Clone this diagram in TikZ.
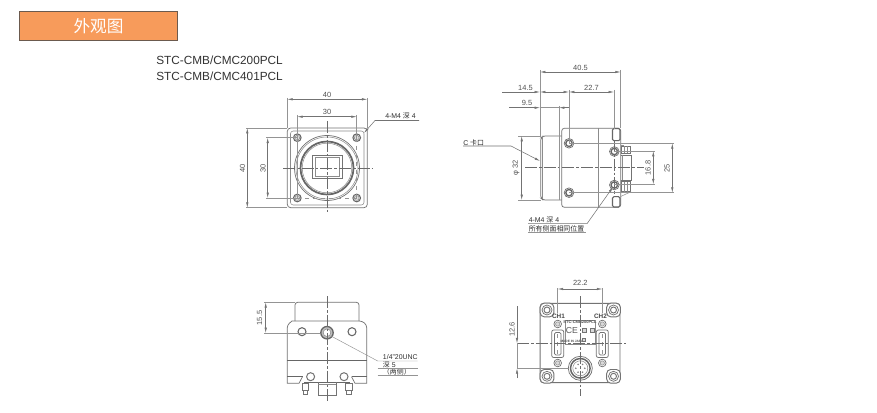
\documentclass[tikz,border=0pt]{standalone}
\usepackage{fontspec}
\setmainfont{Liberation Sans}
\newfontfamily\cjk{Noto Sans CJK SC}
\usetikzlibrary{arrows.meta}
\definecolor{hdr}{HTML}{F79B5B}
\definecolor{hdrline}{HTML}{6B5A4E}
\definecolor{ink}{HTML}{333333}
\tikzset{
 obj/.style={draw=black!55,line width=.55pt},
 thin obj/.style={draw=black!45,line width=.4pt},
 heavy/.style={draw=black!60,line width=.8pt},
 ctr/.style={draw=black!58,line width=.4pt,dash pattern=on 9pt off 1.5pt on 2pt off 1.5pt},
 ext/.style={draw=black!42,line width=.35pt},
 dim/.style={draw=black!55,line width=.4pt,{Latex[length=4pt,width=1.8pt]}-{Latex[length=4pt,width=1.8pt]}},
 tip/.style={draw=black!55,line width=.4pt,-{Latex[length=4pt,width=1.8pt]}},
 lbl/.style={font=\fontsize{5.6}{6}\selectfont,text=black!68,inner sep=0pt},
 call/.style={font=\fontsize{5.2}{6}\selectfont,text=black!82,inner sep=0pt,anchor=west},
 model/.style={font=\fontsize{8.85}{10}\selectfont,text=ink,inner sep=0pt,anchor=west},
}
\newcommand{\hole}[2]{\draw[heavy,fill=white] (#1,#2) circle (3.8);\draw[thin obj,fill=black!12] (#1,#2) circle (2.4);}
\newcommand{\bigscrew}[2]{\draw[obj,fill=white] (#1,#2) circle (4.8);\draw[heavy,line width=1pt] (#1,#2) circle (3.2);}
\begin{document}
\begin{tikzpicture}[x=.75pt,y=-.75pt]
\useasboundingbox (0,0) rectangle (877,413);
\fill[white] (0,0) rectangle (877,413);
% header
\node[draw=hdrline,line width=.7pt,fill=hdr,minimum width=119pt,minimum height=22pt,inner sep=0pt,text=white,font=\cjk\fontsize{12.5}{14}\selectfont] (hd) at (98.5,25.8) {外观图};
\node[model] (m1) at (156,60.5) {STC-CMB/CMC200PCL};
\node[model] (m2) at (156,76.5) {STC-CMB/CMC401PCL};

% ===== front view =====
\draw[obj,rounded corners=2.5pt] (287.3,128) rectangle (367.3,207.7);
\draw[thin obj,rounded corners=2pt] (290.5,131) rectangle (364,205);
\draw[obj] (327,168) circle (32.5);
\draw[thin obj] (327,168) circle (31);
\draw[heavy,line width=1.3pt] (327,168) circle (26.5);
\draw[thin obj] (327,168) circle (24.8);
\draw[obj,line width=.7pt,fill=white] (312.3,155) rectangle (342.3,178.5);
\draw[thin obj] (315,157.5) rectangle (339.5,176);
\hole{297.3}{137.7}\hole{356.7}{137.7}\hole{297.3}{198}\hole{356.7}{198}
\draw[ctr] (283,168) -- (373,168);
\draw[ctr] (327,121) -- (327,214);
\draw[ext,dashed] (297.3,198) -- (356.7,198);
\draw[ext,dashed] (356.7,137.7) -- (356.7,198);
\draw[ext] (287.3,98) -- (287.3,128);
\draw[ext] (367.3,98) -- (367.3,128);
\draw[ext] (297.3,115) -- (297.3,198);
\draw[ext] (356.7,115) -- (356.7,137.7);
\draw[ext] (246,128) -- (287.3,128);
\draw[ext] (246,207.7) -- (287.3,207.7);
\draw[ext] (266,137.7) -- (297.3,137.7);
\draw[ext] (266,198) -- (297.3,198);
\coordinate (fa) at (287.3,99.3); \coordinate (fb) at (367.3,99.3);
\draw[dim] (fa) -- (fb);
\coordinate (fc) at (297.3,116.7); \coordinate (fd) at (356.7,116.7);
\draw[dim] (fc) -- (fd);
\coordinate (fe) at (247.3,128); \coordinate (ff) at (247.3,207.7);
\draw[dim] (fe) -- (ff);
\coordinate (fg) at (267.7,137.7); \coordinate (fh) at (267.7,198);
\draw[dim] (fg) -- (fh);
\node[lbl] (l40a) at (327,94.5) {40};
\node[lbl] (l30a) at (327,112) {30};
\node[lbl,rotate=90] (l40b) at (242.5,168) {40};
\node[lbl,rotate=90] (l30b) at (263,168) {30};
\node[call,anchor=west] (m4a) at (385,115.5) {4-M4 {\cjk 深} 4};
\coordinate (m4e) at (419,120.5); \coordinate (m4f) at (375,120.5); \coordinate (m4g) at (364,133);
\draw[tip] (m4e) -- (m4f) -- (m4g);

% ===== side view =====
\draw[obj,rounded corners=2pt] (561.7,128.3) -- (620.7,128.3) -- (620.7,207.3) -- (561.7,207.3) -- cycle;
\draw[obj,rounded corners=1.5pt] (561.7,136) -- (543,136) -- (540.7,138) -- (540.7,198) -- (543,200) -- (561.7,200);
\draw[thin obj] (542.5,136.5) -- (542.5,199.5);
\draw[thin obj] (598.3,128.3) -- (598.3,207.3);
\draw[heavy,fill=white,rounded corners=1pt] (612.5,128.5) rectangle (620,140.7);
\draw[heavy,fill=white,rounded corners=1pt] (612.5,196.7) rectangle (620,207);
% connector side
\draw[thin obj] (620.7,145) -- (624,145);
\draw[obj] (620.7,155) -- (631,155) -- (631,180.5) -- (620.7,180.5);
\draw[thin obj] (622.5,155) -- (622.5,180.5);
\draw[obj] (621,146) rectangle (630,153.5);
\draw[thin obj] (624,146) -- (624,153.5) (627.5,146) -- (627.5,153.5);
\draw[obj] (621,181.7) rectangle (630,191.7);
\draw[thin obj] (624,181.7) -- (624,191.7) (627.5,181.7) -- (627.5,191.7);
\draw[thin obj] (620.7,196.5) -- (631,191.7);
\bigscrew{569}{143.3}\bigscrew{569}{192.7}
\bigscrew{614.3}{151.5}\bigscrew{614.3}{185}
\draw[ctr] (525,167.7) -- (644,167.7);
\draw[ctr] (614.3,140) -- (614.3,197);
\draw[ext] (540,70) -- (540,136);
\draw[ext] (620.7,70) -- (620.7,128.3);
\draw[ext] (569,90) -- (569,143);
\draw[ext] (614,90) -- (614,129);
\draw[ext] (559,106) -- (559,200);
\draw[ext] (518,136) -- (541,136);
\draw[ext] (518,200) -- (541,200);
\draw[ext] (569,143.3) -- (674,143.3);
\draw[ext] (569,192.7) -- (674,192.7);
\draw[ext] (613.7,151) -- (655,151);
\draw[ext] (613.7,184.3) -- (655,184.3);
\coordinate (sa) at (540,72); \coordinate (sb) at (620.7,72);
\draw[dim] (sa) -- (sb);
\coordinate (sc) at (502,92); \coordinate (sd) at (540,92); \coordinate (se) at (569,92); \coordinate (sf) at (614,92);
\draw[tip] (sc) -- (sd);
\draw[dim] (sd) -- (se);
\draw[dim] (se) -- (sf);
\coordinate (sg) at (509,107.7); \coordinate (sh) at (540,107.7); \coordinate (si) at (559,107.7); \coordinate (sj) at (569,107.7);
\draw[tip] (sg) -- (sh);
\draw[ext] (sh) -- (si);
\draw[tip] (sj) -- (si);
\coordinate (sk) at (521.7,136); \coordinate (sl) at (521.7,200);
\draw[dim] (sk) -- (sl);
\coordinate (sm) at (653.3,151); \coordinate (sn) at (653.3,184.3);
\draw[dim] (sm) -- (sn);
\coordinate (so) at (672.3,143.3); \coordinate (sp) at (672.3,192.7);
\draw[dim] (so) -- (sp);
\node[lbl] (l405) at (580.5,67.5) {40.5};
\node[lbl] (l145) at (525.5,87.5) {14.5};
\node[lbl] (l227) at (591.5,87.5) {22.7};
\node[lbl] (l95) at (527,103) {9.5};
\node[lbl,rotate=90] (l32) at (516,168) {φ 32};
\node[lbl,rotate=90] (l168) at (648,168) {16.8};
\node[lbl,rotate=90] (l25) at (667,168) {25};
\node[call] (cm) at (463,142.7) {C {\cjk 卡口}};
\coordinate (cma) at (463,146); \coordinate (cmb) at (511,146); \coordinate (cmc) at (540,161);
\draw[tip] (cma) -- (cmb) -- (cmc);
\node[call] (m4b) at (528.5,220) {4-M4 {\cjk 深} 4};
\node[call] (m4c) at (528.5,229) {\cjk 所有侧面相同位置};
\coordinate (m4h) at (528,223.7); \coordinate (m4i) at (587,223.7); \coordinate (m4j) at (613,187);
\draw[ext] (528,232.5) -- (586,232.5);
\draw[tip] (m4h) -- (m4i) -- (m4j);

% ===== bottom view =====
\draw[obj,rounded corners=2pt] (295,321) -- (295,302.3) -- (359,302.3) -- (359,321);
\draw[obj,rounded corners=2pt] (292,321) -- (362,321) -- (366.7,325) -- (366.7,376.7);
\draw[obj,rounded corners=2pt] (292,321) -- (287.3,325) -- (287.3,376.7);
\draw[heavy] (287.3,360.7) -- (366.7,360.7);
% feet
\draw[obj] (287.3,376.7) -- (287.3,383.3) -- (299,383.3) -- (302.5,376.7);
\draw[obj] (366.7,376.7) -- (366.7,383.3) -- (355,383.3) -- (351.5,376.7);
\draw[heavy] (287.3,376.7) -- (302.5,376.7);
\draw[heavy] (351.5,376.7) -- (366.7,376.7);
\draw[heavy] (304,382.3) -- (350,382.3);
\draw[obj] (318.3,382.3) -- (318.3,395.7) -- (336,395.7) -- (336,382.3);
\draw[thin obj] (318.3,384.5) -- (336,384.5);
% feet screws
\draw[obj] (302,383.3) rectangle (308.3,390) (303,390) rectangle (307.3,394);
\draw[obj] (345.7,383.3) rectangle (352,390) (346.7,390) rectangle (351,394);
\draw[heavy,fill=white] (302,331.7) circle (4);
\draw[heavy,fill=white] (352,331.7) circle (4);
\draw[obj,line width=.75pt,fill=white] (310.6,376.7) circle (4);
\draw[obj,line width=.75pt,fill=white] (344,376.7) circle (4);
\draw[heavy,fill=black!25,line width=1pt] (327,332.7) circle (6.2);
\draw[thin obj,fill=white] (327,332.7) circle (3.8);
\draw[ctr] (327,296) -- (327,402);
\draw[ext] (264,302.3) -- (295,302.3);
\draw[ext] (264,333) -- (320,333);
\coordinate (ba) at (265.7,302.3); \coordinate (bb) at (265.7,333);
\draw[dim] (ba) -- (bb);
\node[lbl,rotate=90] (l155) at (259.5,318) {15.5};
\node[call] (un) at (382.7,357) {1/4"20UNC};
\node[call] (de) at (382.7,365) {{\cjk 深} 5};
\node[call] (li) at (382.7,372) {\cjk（两侧）};
\coordinate (bc) at (417.7,361); \coordinate (bd) at (377.7,361); \coordinate (be) at (331,336);
\draw[ext] (bc) -- (bd) -- (be);
\draw[ext] (377.7,368.7) -- (417.7,368.7);
\draw[ext] (377.7,375.7) -- (417.7,375.7);

% ===== rear view =====
\draw[obj,line width=.7pt,rounded corners=2.5pt] (540.2,303.3) rectangle (620,382.7);
\foreach \p/\q in {547/310,613.5/310,547/376.3,613.5/376.3}{
 \draw[obj,line width=.7pt,rounded corners=3pt,fill=white] (\p-6.8,\q-6.8) rectangle (\p+6.8,\q+6.8);
 \draw[obj] (\p,\q) circle (5);
 \draw[obj,line width=.7pt] (\p,\q) circle (3);
}
\draw[thin obj] (565,320) rectangle (595,344);
\node[font=\fontsize{3}{3}\selectfont\bfseries,text=black!70,inner sep=0pt] (part) at (580,322.5) {STC-CMB200PCL};
\node[font=\fontsize{6.5}{7}\selectfont,text=black!65,inner sep=0pt] (ce) at (572,331) {CE};
\node[font=\fontsize{2.4}{3}\selectfont\bfseries,text=black!70,inner sep=0pt] (mij) at (573,341) {MADE IN JAPAN};
\draw[obj,fill=black!15] (582.5,328.5) rectangle (586,332);
\draw[obj,fill=black!15] (590.5,328.5) rectangle (594,332);
\draw[obj,fill=black!15] (582,338) rectangle (585,341.5);
\foreach \c in {557.7,602.3}{
 \draw[obj,fill=white] (\c,324) circle (3.8);
 \draw[thin obj,fill=black!15] (\c,324) circle (2.2);
 \draw[obj,fill=white] (\c,363) circle (3.8);
 \draw[thin obj,fill=black!15] (\c,363) circle (2.2);
 \draw[obj,rounded corners=1.5pt] (\c-6,330) -- (\c+6,330) -- (\c+6,357.5) -- (\c-6,357.5) -- cycle;
 \draw[obj,rounded corners=1pt] (\c-3.2,332.5) rectangle (\c+3.2,355);
 \draw[ext,dashed] (\c,334) -- (\c,354);
}
\draw[ctr] (580.3,296) -- (580.3,396);
\draw[ctr] (517,343.3) -- (625.7,343.3);
\draw[ext] (517,368.3) -- (568,368.3);
\draw[ext] (557.7,288) -- (557.7,312.5);
\draw[ext] (602.3,288) -- (602.3,312.5);
\node[font=\fontsize{4.8}{5}\selectfont\bfseries,text=black!72,inner sep=0pt] (ch1) at (558.5,316.5) {CH1};
\node[font=\fontsize{4.8}{5}\selectfont\bfseries,text=black!72,inner sep=0pt] (ch2) at (600.5,316.5) {CH2};
\draw[obj] (580.3,368.3) circle (12);
\draw[heavy,line width=1.1pt] (580.3,368.3) circle (9.8);
\draw[thin obj] (580.3,368.3) circle (7.5);
\foreach \a in {0,60,...,300}{\fill[black!50] (580.3,368.3) ++(\a:-4.5) circle (.9);}
\coordinate (ra) at (557.7,289); \coordinate (rb) at (602.3,289);
\draw[dim] (ra) -- (rb);
\coordinate (rc) at (517,306); \coordinate (rd) at (517,343.3); \coordinate (re) at (517,368.3); \coordinate (rf) at (517,378);
\draw[tip] (rc) -- (rd);
\draw[tip] (rf) -- (re);
\draw[ext] (rd) -- (re);
\node[lbl] (l222) at (580.3,283) {22.2};
\node[lbl,rotate=90] (l126) at (512,329.5) {12.6};
\end{tikzpicture}
\end{document}
